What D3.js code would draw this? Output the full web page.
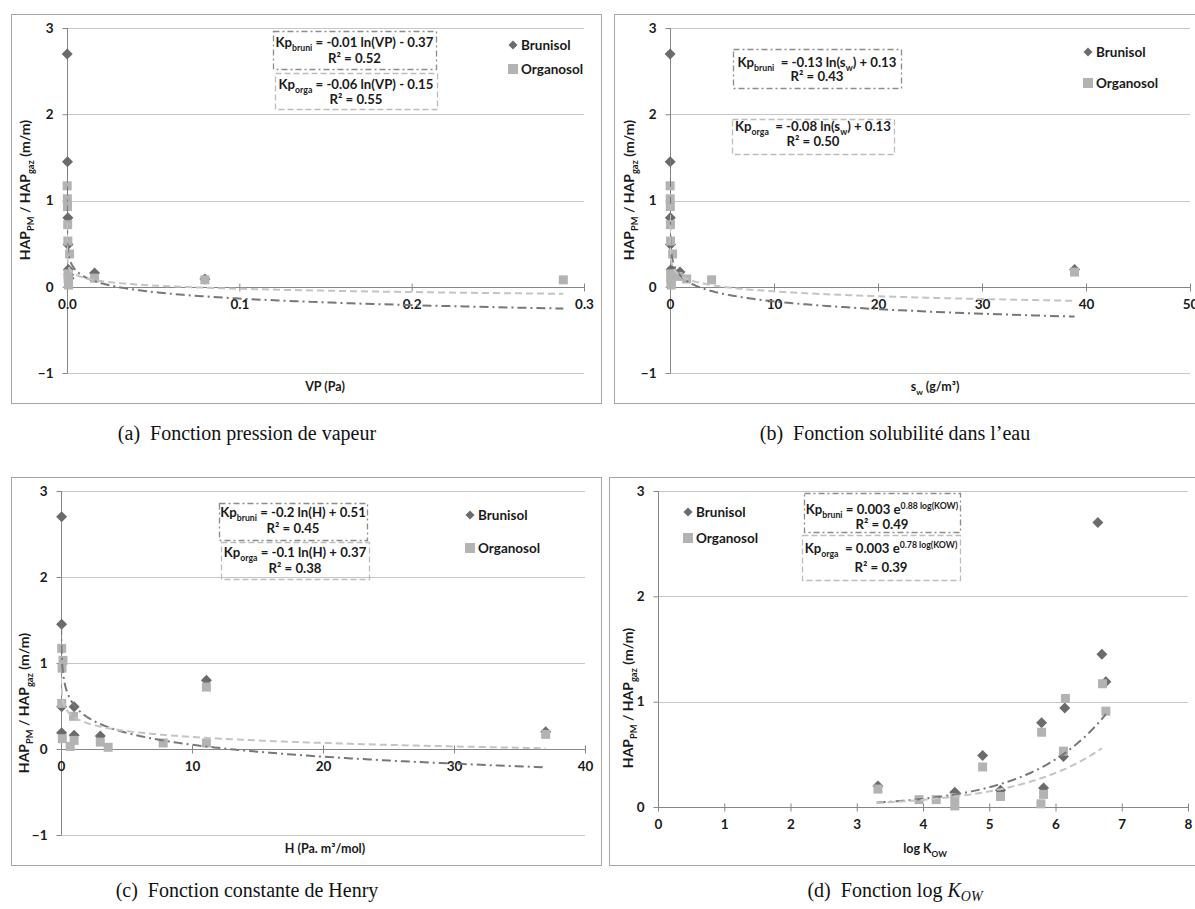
<!DOCTYPE html>
<html><head><meta charset="utf-8">
<script src="https://cdn.jsdelivr.net/npm/d3@7"></script>
<style>body{margin:0;background:#fff}svg{display:block}text{white-space:pre}</style>
</head><body>
<svg id="chart" width="1195" height="909"></svg>
<script>
// ---------------- data ----------------
const yTicksFull = [-1, 0, 1, 2, 3];
const yTicksPos = [0, 1, 2, 3];
const vpTicks = [0, 0.1, 0.2, 0.3];
const swTicks = [0, 10, 20, 30, 40, 50];
const hTicks = [0, 10, 20, 30, 40];
const kowTicks = [0, 1, 2, 3, 4, 5, 6, 7, 8];

// (a) vapour pressure (Pa) vs HAP_PM/HAP_gaz
const vpBrunisol = [[0.0001,2.70],[0.0003,1.45],[0.0005,0.80],[0.0006,0.49],[0.0008,0.20],[0.0010,0.14],[0.0012,0.10],[0.016,0.16],[0.080,0.09]];
const vpOrganosol = [[0.0001,1.17],[0.0002,1.02],[0.0003,0.93],[0.0004,0.72],[0.0005,0.53],[0.0015,0.38],[0.0006,0.15],[0.0007,0.10],[0.0008,0.05],[0.0009,0.02],[0.016,0.10],[0.080,0.08],[0.288,0.08]];
// (b) water solubility (g/m3)
const swBrunisol = [[0.01,2.70],[0.02,1.45],[0.03,0.80],[0.05,0.49],[0.10,0.20],[0.96,0.17],[0.2,0.14],[38.9,0.20]];
const swOrganosol = [[0.01,1.17],[0.02,1.02],[0.03,0.93],[0.04,0.72],[0.05,0.53],[0.25,0.38],[0.06,0.15],[0.08,0.10],[0.1,0.05],[0.12,0.02],[0.8,0.12],[1.6,0.09],[4.0,0.08],[38.9,0.17]];
// (c) Henry constant (Pa.m3/mol)
const hBrunisol = [[0.05,2.70],[0.05,1.45],[0.05,0.49],[0.05,0.19],[1.0,0.49],[1.0,0.16],[3.0,0.15],[11.1,0.80],[37.0,0.20]];
const hOrganosol = [[0.05,1.17],[0.15,1.03],[0.08,0.94],[0.05,0.53],[0.1,0.12],[0.7,0.03],[0.95,0.38],[1.0,0.10],[3.0,0.08],[3.6,0.02],[7.8,0.07],[11.1,0.72],[11.1,0.07],[37.0,0.17]];
// (d) log Kow
const kowBrunisol = [[3.32,0.20],[4.48,0.14],[4.90,0.49],[5.17,0.16],[5.79,0.80],[5.82,0.18],[6.12,0.48],[6.14,0.94],[6.64,2.70],[6.70,1.45],[6.76,1.19]];
const kowOrganosol = [[3.32,0.17],[3.94,0.07],[4.20,0.07],[4.48,0.09],[4.48,0.01],[4.90,0.38],[5.17,0.10],[5.78,0.03],[5.79,0.71],[5.82,0.12],[6.12,0.53],[6.15,1.03],[6.71,1.17],[6.76,0.91]];

// trendline coefficients [a, b, xmin, xmax]
const vpTrendBruni = [-0.11, -0.39, 1e-7, 0.288];   // a ln(x) + b
const vpTrendOrga = [-0.055, -0.15, 1e-7, 0.288];
const swTrendBruni = [-0.13, 0.13, 3e-5, 38.9];
const swTrendOrga = [-0.08, 0.13, 3e-5, 38.9];
const hTrendBruni = [-0.2, 0.51, 0.01, 37];
const hTrendOrga = [-0.1, 0.37, 0.01, 37];
const kowTrendBruni = [0.0023, 0.88, 3.3, 6.76];    // a e^(b x)
const kowTrendOrga = [0.003, 0.78, 3.3, 6.70];

const seriesNames = ["Brunisol", "Organosol"];
const captions = ["(a)  Fonction pression de vapeur", "(b)  Fonction solubilité dans l’eau", "(c)  Fonction constante de Henry", "(d)  Fonction log "];

// equation labels: segments (sub / sup)
const eqA = [[{t:"Kp"},{t:"bruni",s:"sub"},{t:" = -0.01 ln(VP) - 0.37"}],[{t:"R² = 0.52"}],
             [{t:"Kp"},{t:"orga",s:"sub"},{t:" = -0.06 ln(VP) - 0.15"}],[{t:"R² = 0.55"}]];
const eqB = [[{t:"Kp"},{t:"bruni",s:"sub"},{t:"  = -0.13 ln(s"},{t:"w",s:"sub"},{t:") + 0.13"}],[{t:"R² = 0.43"}],
             [{t:"Kp"},{t:"orga",s:"sub"},{t:"  = -0.08 ln(s"},{t:"w",s:"sub"},{t:") + 0.13"}],[{t:"R² = 0.50"}]];
const eqC = [[{t:"Kp"},{t:"bruni",s:"sub"},{t:" = -0.2 ln(H) + 0.51"}],[{t:"R² = 0.45"}],
             [{t:"Kp"},{t:"orga",s:"sub"},{t:" = -0.1 ln(H) + 0.37"}],[{t:"R² = 0.38"}]];
const eqD = [[{t:"Kp"},{t:"bruni",s:"sub"},{t:" = 0.003 e"},{t:"0.88 log(K",s:"sup"},{t:"OW",s:"sup"},{t:")",s:"sup"}],[{t:"R² = 0.49"}],
             [{t:"Kp"},{t:"orga",s:"sub"},{t:"  = 0.003 e"},{t:"0.78 log(K",s:"sup"},{t:"OW",s:"sup"},{t:")",s:"sup"}],[{t:"R² = 0.39"}]];

// ---------------- drawing ----------------
const svg = d3.select("#chart");
const FONT = "Lato, 'Open Sans', sans-serif";
const C_BRUNI = "#6b6b6b", C_ORGA = "#b3b3b3";
const C_TB = "#777777", C_TO = "#c4c4c4";
const EQ = 13.2, TICK = 13.5, LEG = 13.5;

function rich(g, x, y, segs, size, anchor) {
  const t = g.append("text").attr("x", x).attr("y", y).attr("text-anchor", anchor || "middle")
    .attr("font-family", FONT).attr("font-weight", "bold").attr("font-size", size).attr("fill", "#1a1a1a");
  let cur = 0;
  segs.forEach(s => {
    const target = s.s === "sub" ? size * 0.28 : s.s === "sup" ? -size * 0.4 : 0;
    t.append("tspan").attr("dy", target - cur).attr("font-size", s.s ? size * 0.66 : size).text(s.t);
    cur = target;
  });
  return t;
}
const diamond = r => `M0,${-r}L${r},0L0,${r}L${-r},0Z`;

function panel(cfg) {
  const g = svg.append("g");
  g.append("rect").attr("x", cfg.frame[0] + 0.5).attr("y", cfg.frame[1] + 0.5)
    .attr("width", cfg.frame[2]).attr("height", cfg.frame[3])
    .attr("fill", "#fff").attr("stroke", "#a6a6a6");
  const x = d3.scaleLinear().domain(cfg.xDomain).range([cfg.plot[0], cfg.plot[1]]);
  const y = d3.scaleLinear().domain(cfg.yDomain).range([cfg.plot[3], cfg.plot[2]]);
  g.append("g").selectAll("line").data(cfg.yTicks.filter(v => v !== 0)).join("line")
    .attr("x1", cfg.plot[0]).attr("x2", cfg.plot[1])
    .attr("y1", d => Math.round(y(d)) + 0.5).attr("y2", d => Math.round(y(d)) + 0.5)
    .attr("stroke", "#c6c6c6");
  const yAx = d3.axisLeft(y).tickValues(cfg.yTicks).tickSize(5).tickPadding(9).tickFormat(d3.format("d"));
  const ya = g.append("g").attr("transform", `translate(${Math.round(x(0)) + 0.5},0)`).call(yAx);
  const xAx = d3.axisBottom(x).tickValues(cfg.xTicks).tickSize(0).tickPadding(12).tickFormat(d3.format(cfg.xFmt));
  const xa = g.append("g").attr("transform", `translate(0,${Math.round(y(0)) + 0.5})`).call(xAx);
  xa.selectAll(".tick").append("line").attr("y1", -4).attr("y2", 4).attr("stroke", "#868686");
  [ya, xa].forEach(a => {
    a.select(".domain").attr("stroke", "#868686");
    a.selectAll(".tick line").attr("stroke", "#868686");
    a.selectAll("text").attr("font-family", FONT).attr("font-weight", "bold").attr("font-size", TICK).attr("fill", "#1a1a1a");
  });
  xa.select(".domain").attr("d", `M${cfg.plot[0]},0H${cfg.plot[1]}`);
  ya.select(".domain").attr("d", `M0,${cfg.plot[2]}V${cfg.plot[3]}`);

  const yt = g.append("g").attr("transform", `translate(${cfg.yTitle[0]},${cfg.yTitle[1]}) rotate(-90)`);
  rich(yt, 0, 0, [{t:"HAP"},{t:"PM",s:"sub"},{t:" / HAP"},{t:"gaz",s:"sub"},{t:" (m/m)"}], 14);
  rich(g, cfg.xTitle[0], cfg.xTitle[1], cfg.xTitleSegs, 12.5);

  const cid = "clip" + cfg.id;
  svg.append("clipPath").attr("id", cid).append("rect")
    .attr("x", cfg.plot[0]).attr("y", cfg.plot[2]).attr("width", cfg.plot[1] - cfg.plot[0]).attr("height", cfg.plot[3] - cfg.plot[2]);
  const pg = g.append("g");
  pg.selectAll("path.b").data(cfg.bruni).join("path").attr("class", "b")
    .attr("transform", d => `translate(${x(d[0])},${y(d[1])})`).attr("d", diamond(5.5)).attr("fill", C_BRUNI);
  pg.selectAll("rect.o").data(cfg.orga).join("rect").attr("class", "o")
    .attr("x", d => x(d[0]) - 4.5).attr("y", d => y(d[1]) - 4.5).attr("width", 9).attr("height", 9).attr("fill", C_ORGA);
  const tg = g.append("g").attr("clip-path", `url(#${cid})`);
  function trend(p, color, dash) {
    const [a, b, x0, x1] = p;
    let xs;
    if (cfg.trend === "log") {
      xs = d3.range(0, 401).map(i => Math.exp(Math.log(x0) + (Math.log(x1) - Math.log(x0)) * i / 400));
    } else {
      xs = d3.range(0, 201).map(i => x0 + (x1 - x0) * i / 200);
    }
    const f = cfg.trend === "log" ? (v => a * Math.log(v) + b) : (v => a * Math.exp(b * v));
    const line = d3.line().x(d => x(d)).y(d => y(f(d)));
    tg.append("path").attr("d", line(xs)).attr("fill", "none").attr("stroke", color)
      .attr("stroke-width", 2).attr("stroke-dasharray", dash);
  }
  trend(cfg.tBruni, C_TB, "9,4,2,4");
  trend(cfg.tOrga, C_TO, "7,4");

  const bb = cfg.boxB, bo = cfg.boxO, e = cfg.eq;
  g.append("rect").attr("x", bb[0] + 0.5).attr("y", bb[1] + 0.5).attr("width", bb[2]).attr("height", bb[3])
    .attr("fill", "none").attr("stroke", "#8c8c8c").attr("stroke-width", 1.3).attr("stroke-dasharray", "6,3,2,3");
  g.append("rect").attr("x", bo[0] + 0.5).attr("y", bo[1] + 0.5).attr("width", bo[2]).attr("height", bo[3])
    .attr("fill", "none").attr("stroke", "#bdbdbd").attr("stroke-width", 1.3).attr("stroke-dasharray", "6,3");
  rich(g, bb[0] + bb[2] / 2, cfg.eqY[0], e[0], EQ);
  rich(g, bb[0] + bb[2] / 2, cfg.eqY[1], e[1], EQ);
  rich(g, bo[0] + bo[2] / 2, cfg.eqY[2], e[2], EQ);
  rich(g, bo[0] + bo[2] / 2, cfg.eqY[3], e[3], EQ);

  const L = cfg.legend;
  g.append("path").attr("transform", `translate(${L[0]},${L[1]})`).attr("d", diamond(4.5)).attr("fill", C_BRUNI);
  g.append("rect").attr("x", L[0] - 5).attr("y", L[2] - 5).attr("width", 10).attr("height", 10).attr("fill", C_ORGA);
  rich(g, L[0] + 8, L[1] + 5, [{t:seriesNames[0]}], LEG, "start");
  rich(g, L[0] + 8, L[2] + 5, [{t:seriesNames[1]}], LEG, "start");

  const cap = svg.append("text").attr("x", cfg.caption[0]).attr("y", cfg.caption[1]).attr("text-anchor", "middle")
    .attr("font-family", "'Liberation Serif', 'DejaVu Serif', serif").attr("font-size", 20).attr("fill", "#111");
  cap.append("tspan").text(cfg.capText);
  if (cfg.capKow) {
    cap.append("tspan").attr("font-style", "italic").text("K");
    cap.append("tspan").attr("font-style", "italic").attr("font-size", 14).attr("dy", 4).text("OW");
  }
}

panel({id:"a", frame:[11,14,590,389], plot:[67,584,28,373], xDomain:[0,0.3], yDomain:[-1,3],
  xTicks:vpTicks, yTicks:yTicksFull, xFmt:".1f", bruni:vpBrunisol, orga:vpOrganosol, trend:"log",
  tBruni:vpTrendBruni, tOrga:vpTrendOrga, yTitle:[30,190], xTitle:[325,391], xTitleSegs:[{t:"VP (Pa)"}],
  boxB:[273,31,163,38], boxO:[275,73,162,36], eq:eqA, eqY:[47,63,89,104], legend:[513,45,69],
  caption:[247,440], capText:captions[0]});
panel({id:"b", frame:[614,14,600,389], plot:[670,1190,28,373], xDomain:[0,50], yDomain:[-1,3],
  xTicks:swTicks, yTicks:yTicksFull, xFmt:"d", bruni:swBrunisol, orga:swOrganosol, trend:"log",
  tBruni:swTrendBruni, tOrga:swTrendOrga, yTitle:[634,190], xTitle:[935,391],
  xTitleSegs:[{t:"s"},{t:"w",s:"sub"},{t:" (g/m³)"}],
  boxB:[733,49,168,39], boxO:[732,119,162,35], eq:eqB, eqY:[67,81,131,146], legend:[1088,52,83],
  caption:[895,440], capText:captions[1]});
panel({id:"c", frame:[11,477,590,388], plot:[61,585,491,835], xDomain:[0,40], yDomain:[-1,3],
  xTicks:hTicks, yTicks:yTicksFull, xFmt:"d", bruni:hBrunisol, orga:hOrganosol, trend:"log",
  tBruni:hTrendBruni, tOrga:hTrendOrga, yTitle:[29,703], xTitle:[325,853], xTitleSegs:[{t:"H (Pa. m³/mol)"}],
  boxB:[219,503,148,37], boxO:[221,542,148,37], eq:eqC, eqY:[517,533,557,573], legend:[470,515,548],
  caption:[247,897], capText:captions[2]});
panel({id:"d", frame:[609,477,600,388], plot:[658,1188,491,807], xDomain:[0,8], yDomain:[0,3],
  xTicks:kowTicks, yTicks:yTicksPos, xFmt:"d", bruni:kowBrunisol, orga:kowOrganosol, trend:"exp",
  tBruni:kowTrendBruni, tOrga:kowTrendOrga, yTitle:[633,698], xTitle:[925,853],
  xTitleSegs:[{t:"log K"},{t:"OW",s:"sub"}],
  boxB:[804,493,156,39], boxO:[802,535,158,45], eq:eqD, eqY:[514,529,553,572], legend:[688,512,538],
  caption:[895,897], capText:captions[3], capKow:true});
</script>
</body></html>
